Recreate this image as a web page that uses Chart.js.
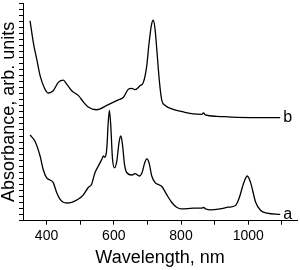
<!DOCTYPE html>
<html>
<head>
<meta charset="utf-8">
<script src="https://cdn.jsdelivr.net/npm/chart.js@4.4.1/dist/chart.umd.min.js"></script>
<style>
  html, body { margin: 0; padding: 0; background: #fff; }
  #wrap { width: 300px; height: 270px; }
</style>
</head>
<body>
<div id="wrap"><canvas id="specChart"></canvas></div>
<script>
// spectrum a (lower curve)
const wavelengthA = [351, 366, 381, 390, 400, 410, 420, 430, 440, 450, 460, 475, 495, 509, 524, 534, 544, 554, 564, 569, 573, 577, 580, 583, 587, 591, 596, 602, 609, 616, 621, 626, 632, 639, 654, 663, 676, 684, 692, 698, 705, 713, 723, 733, 743, 757, 772, 787, 802, 837, 860, 867, 875, 887, 916, 941, 962, 972, 987, 997, 1007, 1022, 1037, 1056, 1095];
const absorbanceA = [14.17, 13.09, 10.65, 8.47, 7.12, 6.74, 6.30, 4.67, 3.58, 3.05, 2.93, 3.05, 3.58, 4.23, 5.49, 6.03, 7.93, 9.02, 10.10, 10.70, 10.49, 10.91, 12.54, 15.80, 18.24, 15.80, 10.37, 8.75, 9.84, 13.09, 14.01, 12.54, 9.28, 7.93, 7.56, 7.77, 7.39, 7.93, 9.56, 10.21, 9.56, 7.39, 6.30, 5.98, 5.65, 4.35, 3.05, 2.23, 1.95, 2.07, 2.07, 2.18, 1.91, 1.79, 1.95, 2.23, 2.51, 3.58, 6.30, 7.39, 6.30, 3.05, 1.69, 1.25, 1.04];

// spectrum b (upper curve)
const wavelengthB = [351, 361, 371, 381, 395, 405, 420, 435, 450, 460, 475, 495, 510, 524, 549, 579, 609, 629, 644, 654, 663, 678, 688, 698, 705, 712, 718, 723, 728, 736, 743, 753, 777, 807, 837, 862, 867, 872, 907, 967, 1095];
const absorbanceB = [33.06, 29.38, 26.66, 23.94, 21.78, 21.12, 21.50, 22.87, 23.24, 22.59, 21.50, 20.68, 19.61, 18.79, 18.35, 19.06, 19.87, 20.42, 21.78, 21.89, 21.66, 22.31, 22.87, 25.57, 29.38, 32.36, 33.18, 31.55, 28.29, 22.87, 19.87, 19.06, 18.40, 17.98, 17.65, 17.59, 17.82, 17.49, 17.26, 17.10, 17.05];

const curveLabels = ["a", "b"];
const xTicks = [400, 500, 600, 700, 800, 900, 1000, 1100];

const toPoints = (xs, ys) => xs.map((x, i) => ({ x: x, y: ys[i] }));

// writes "a" / "b" just after the end of each curve
const endLabels = {
    id: "endLabels",
    afterDatasetsDraw(chart) {
        const ctx = chart.ctx;
        ctx.save();
        ctx.font = "16px 'Liberation Sans', Arial, sans-serif";
        ctx.fillStyle = "#000";
        ctx.textAlign = "left";
        ctx.textBaseline = "middle";
        chart.data.datasets.forEach((ds, i) => {
            const last = ds.data[ds.data.length - 1];
            const px = chart.scales.x.getPixelForValue(last.x) + 3;
            const py = chart.scales.y.getPixelForValue(last.y);
            ctx.fillText(curveLabels[i], px, py);
        });
        ctx.restore();
    }
};

const ctx = document.getElementById("specChart").getContext("2d");

new Chart(ctx, {
    type: "line",
    data: {
        datasets: [
            { label: "a", data: toPoints(wavelengthA, absorbanceA) },
            { label: "b", data: toPoints(wavelengthB, absorbanceB) }
        ]
    },
    options: {
        responsive: true,
        maintainAspectRatio: false,
        animation: false,
        layout: { padding: { top: 3, right: 3, left: 0, bottom: 0 } },
        elements: {
            line: { borderColor: "#000", borderWidth: 1.3, tension: 0.4, cubicInterpolationMode: "monotone" },
            point: { radius: 0 }
        },
        plugins: {
            legend: { display: false },
            tooltip: { enabled: false }
        },
        scales: {
            x: {
                type: "linear",
                min: 330,
                max: 1145,
                afterBuildTicks: (axis) => { axis.ticks = xTicks.map(v => ({ value: v })); },
                ticks: {
                    color: "#000",
                    padding: 3,
                    maxRotation: 0,
                    autoSkip: false,
                    font: { family: "'Liberation Sans', Arial, sans-serif", size: 14 },
                    callback: (v) => (v % 200 === 0 ? v : "")
                },
                grid: { drawOnChartArea: false, color: "#000", tickLength: 4 },
                border: { color: "#000", width: 1 },
                title: {
                    display: true,
                    text: "Wavelength, nm",
                    color: "#000",
                    font: { family: "'Liberation Sans', Arial, sans-serif", size: 18, lineHeight: 1 },
                    padding: { top: 2, bottom: 2.5 }
                }
            },
            y: {
                type: "linear",
                min: 0,
                max: 36,
                ticks: { display: false, stepSize: 1 },
                grid: { drawOnChartArea: false, color: "#000", tickLength: 4 },
                border: { color: "#000", width: 1 },
                title: {
                    display: true,
                    text: "Absorbance, arb. units",
                    color: "#000",
                    font: { family: "'Liberation Sans', Arial, sans-serif", size: 18, lineHeight: 1 },
                    padding: { top: 0, bottom: 1 }
                }
            }
        }
    },
    plugins: [endLabels]
});
</script>
</body>
</html>
